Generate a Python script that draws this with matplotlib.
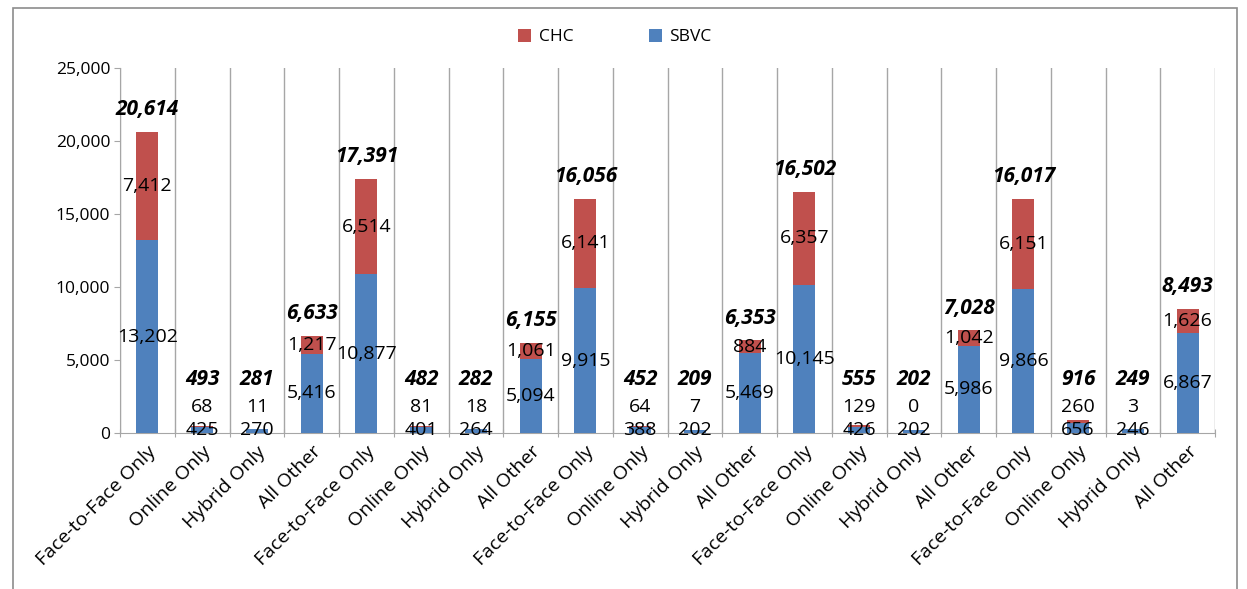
import matplotlib
matplotlib.use("Agg")
import matplotlib.pyplot as plt
from matplotlib.patches import Rectangle
from matplotlib.ticker import FuncFormatter, FixedLocator
import numpy as np

categories = ["Face-to-Face Only", "Online Only", "Hybrid Only", "All Other"] * 5
sbvc = [13202, 425, 270, 5416, 10877, 401, 264, 5094, 9915, 388, 202, 5469,
        10145, 426, 202, 5986, 9866, 656, 246, 6867]
chc = [7412, 68, 11, 1217, 6514, 81, 18, 1061, 6141, 64, 7, 884,
       6357, 129, 0, 1042, 6151, 260, 3, 1626]
totals = [a + b for a, b in zip(sbvc, chc)]

BLUE = "#4F81BD"
RED = "#C0504D"
GRID = "#A6A6A6"
FONT = "Open Sans"

plt.rcParams["font.family"] = [FONT, "DejaVu Sans"]

fig = plt.figure(figsize=(12.47, 5.89), dpi=100)
ax = fig.add_axes([120 / 1247, 1 - 433 / 589, 1095 / 1247, 365 / 589])

x = np.arange(len(categories))
w = 0.4
ax.bar(x, sbvc, w, color=BLUE, label="SBVC", zorder=3)
ax.bar(x, chc, w, bottom=sbvc, color=RED, label="CHC", zorder=3)

ax.set_xlim(-0.5, len(categories) - 0.5)
ax.set_ylim(0, 25000)
ax.set_yticks(np.arange(0, 25001, 5000))
ax.yaxis.set_major_formatter(FuncFormatter(lambda v, p: f"{int(v):,}"))
ax.tick_params(axis="y", labelsize=12.5, length=4.5, color=GRID, pad=2.5)

# category boundaries: gridlines and ticks
bounds = np.arange(-0.5, len(categories) + 0.5, 1)
ax.xaxis.set_major_locator(FixedLocator(bounds))
ax.xaxis.set_major_formatter(FuncFormatter(lambda v, p: ""))
ax.xaxis.set_minor_locator(FixedLocator(x))
ax.set_xticklabels(categories, minor=True, rotation=45, ha="right",
                   rotation_mode="anchor", fontsize=14)
ax.tick_params(axis="x", which="major", length=6, direction="inout", color=GRID)
ax.tick_params(axis="x", which="minor", length=0, pad=7)
for b in bounds:
    ax.axvline(b, color=GRID, lw=1, zorder=1)

ax.spines["top"].set_visible(False)
ax.spines["right"].set_visible(False)
for s in ["left", "bottom"]:
    ax.spines[s].set_color(GRID)

LBL = 14
TOT = 15
# data labels
for i in range(len(categories)):
    if totals[i] < 2000:
        ax.annotate(f"{sbvc[i]:,}", (x[i], 0), xytext=(0, 2), textcoords="offset points",
                    ha="center", va="center", fontsize=LBL, zorder=5)
        ax.annotate(f"{chc[i]:,}", (x[i], 0), xytext=(0, 19), textcoords="offset points",
                    ha="center", va="center", fontsize=LBL, zorder=5)
        ax.annotate(f"{totals[i]:,}", (x[i], 0), xytext=(0, 38.5), textcoords="offset points",
                    ha="center", va="center", fontsize=TOT, fontweight="bold",
                    fontstyle="italic", zorder=5)
    else:
        ax.text(x[i], sbvc[i] / 2, f"{sbvc[i]:,}", ha="center", va="center",
                fontsize=LBL, zorder=5)
        ax.text(x[i], sbvc[i] + chc[i] / 2, f"{chc[i]:,}", ha="center", va="center",
                fontsize=LBL, zorder=5)
        ax.annotate(f"{totals[i]:,}", (x[i], totals[i]), xytext=(0, 16),
                    textcoords="offset points", ha="center", va="center",
                    fontsize=TOT, fontweight="bold", fontstyle="italic", zorder=5)

handles, labels = ax.get_legend_handles_labels()
fig.legend(handles[::-1], labels[::-1], loc="center",
           bbox_to_anchor=(615 / 1247, 1 - 37 / 589), ncol=2, frameon=False,
           fontsize=12.5, handlelength=0.75, handleheight=0.75, handletextpad=0.45,
           columnspacing=4.3)

# outer chart border
fig.patches.append(Rectangle((13 / 1247, -0.05), (1237 - 13) / 1247, 1.05 - 8 / 589,
                             transform=fig.transFigure, fill=False,
                             edgecolor="#8C8C8C", lw=1.2))

fig.savefig("out.png", dpi=100)
